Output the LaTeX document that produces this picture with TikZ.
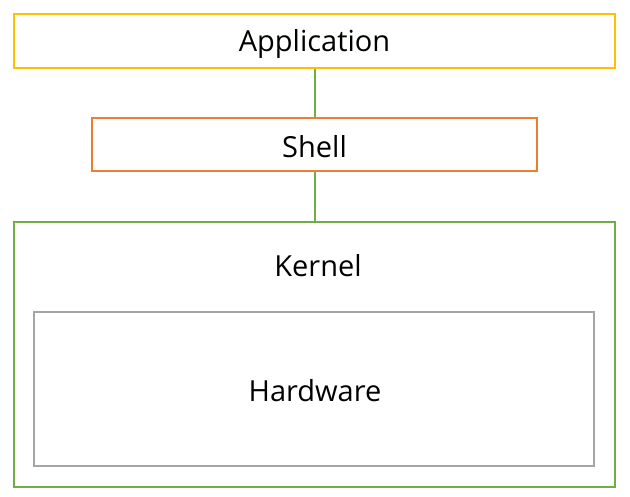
\documentclass[tikz,border=0pt]{standalone}
\usepackage{fontspec}
\setmainfont{Open Sans}
\definecolor{cyel}{HTML}{FFC000}
\definecolor{corg}{HTML}{ED7D31}
\definecolor{cgrn}{HTML}{70AD47}
\definecolor{cgry}{HTML}{A5A5A5}
\begin{document}
\begin{tikzpicture}[x=1pt,y=-1pt,
  box/.style={draw,line width=2pt,fill=white},
  lbl/.style={font=\fontsize{29}{33}\selectfont,text=black,inner sep=0pt}]
\useasboundingbox[fill=white] (0,0) rectangle (630,497);
\node[box,draw=cyel,minimum width=601pt,minimum height=54pt,inner sep=0pt] (app) at (314.5,41) {};
\node[lbl] (applbl) at (314.5,44) {Application};
\node[box,draw=corg,minimum width=445pt,minimum height=53pt,inner sep=0pt] (shell) at (314.5,144.5) {};
\node[lbl] (shelllbl) at (314.5,147) {Shell};
\node[box,draw=cgrn,minimum width=601pt,minimum height=265pt,inner sep=0pt] (kernel) at (314.5,354.5) {};
\node[lbl] (kernellbl) at (318,266) {Kernel};
\node[box,draw=cgry,minimum width=560pt,minimum height=154pt,inner sep=0pt] (hw) at (314,389) {};
\node[lbl] (hwlbl) at (315,391) {Hardware};
\draw[cgrn,line width=2pt] (app.south) -- (shell.north);
\draw[cgrn,line width=2pt] (shell.south) -- (kernel.north);
\end{tikzpicture}
\end{document}
